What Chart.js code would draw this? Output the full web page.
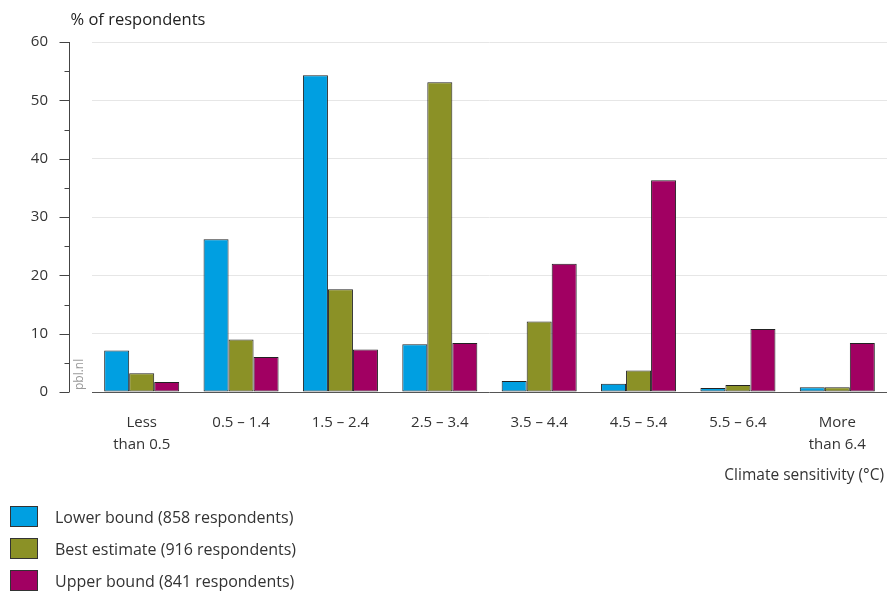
<!DOCTYPE html>
<html>
<head>
<meta charset="utf-8">
<script src="https://cdn.jsdelivr.net/npm/chart.js@4.4.1/dist/chart.umd.min.js"></script>
<style>
  html,body{margin:0;padding:0;background:#fff;}
  #wrap{position:relative;width:887px;height:592px;}
  #legend{position:absolute;left:10px;top:506px;font-family:"Open Sans",sans-serif;font-size:16px;color:#333;}
  .item{display:flex;align-items:center;height:21px;margin-bottom:11px;}
  .box{width:28px;height:21px;border:1px solid #333;margin-right:17px;box-sizing:border-box;}
</style>
</head>
<body>
<div id="wrap">
  <canvas id="c" width="887" height="592"></canvas>
  <div id="legend"></div>
</div>
<script>
const categories = [["Less","than 0.5"], "0.5 – 1.4", "1.5 – 2.4", "2.5 – 3.4", "3.5 – 4.4", "4.5 – 5.4", "5.5 – 6.4", ["More","than 6.4"]];
const lowerBound   = [7.1, 26.2, 54.3, 8.2, 1.9, 1.4, 0.7, 0.8];
const bestEstimate = [3.2, 9.0, 17.6, 53.1, 12.1, 3.7, 1.2, 0.8];
const upperBound   = [1.7, 6.0, 7.3, 8.4, 22.0, 36.3, 10.8, 8.4];
const seriesNames  = ["Lower bound (858 respondents)", "Best estimate (916 respondents)", "Upper bound (841 respondents)"];
const yTicks = [0, 10, 20, 30, 40, 50, 60];
const yAxisTitle = "% of respondents";
const xAxisTitle = "Climate sensitivity (°C)";
const watermark = "pbl.nl";

const colors = ["#009FE1", "#8B9126", "#A10062"];
const FONT = '"Open Sans", sans-serif';

const decor = {
  id: 'decor',
  afterDraw(chart) {
    const ctx = chart.ctx, y = chart.scales.y, area = chart.chartArea;
    const axisX = area.left - 22.5;
    ctx.save();
    ctx.strokeStyle = '#444';
    ctx.lineWidth = 1;
    ctx.beginPath();
    ctx.moveTo(axisX, y.getPixelForValue(yTicks[yTicks.length-1]));
    ctx.lineTo(axisX, y.getPixelForValue(yTicks[0]));
    for (let i = 0; i < yTicks.length; i++) {
      const py = Math.round(y.getPixelForValue(yTicks[i])) + 0.5;
      ctx.moveTo(axisX - 10, py); ctx.lineTo(axisX, py);
      if (i < yTicks.length - 1) {
        const mid = (yTicks[i] + yTicks[i+1]) / 2;
        const pm = Math.round(y.getPixelForValue(mid)) + 0.5;
        ctx.moveTo(axisX - 5, pm); ctx.lineTo(axisX, pm);
      }
    }
    ctx.stroke();
    ctx.fillStyle = '#222';
    ctx.font = '16.5px ' + FONT;
    ctx.textAlign = 'left';
    ctx.textBaseline = 'alphabetic';
    ctx.fillText(yAxisTitle, axisX + 1, 25);
    ctx.font = '15.5px ' + FONT;
    ctx.textAlign = 'right';
    ctx.fillStyle = '#333';
    ctx.fillText(xAxisTitle, area.right - 3, 480);
    ctx.translate(area.left - 9, area.bottom - 2);
    ctx.rotate(-Math.PI / 2);
    ctx.textAlign = 'left';
    ctx.fillStyle = '#999';
    ctx.font = '12px ' + FONT;
    ctx.fillText(watermark, 0, 0);
    ctx.restore();
  }
};

const chart = new Chart(document.getElementById('c'), {
  type: 'bar',
  data: {
    labels: categories,
    datasets: [
      { label: seriesNames[0], data: lowerBound, backgroundColor: colors[0] },
      { label: seriesNames[1], data: bestEstimate, backgroundColor: colors[1] },
      { label: seriesNames[2], data: upperBound, backgroundColor: colors[2] }
    ].map(d => Object.assign(d, { borderColor: '#222', borderWidth: 1, borderSkipped: false, categoryPercentage: 0.755, barPercentage: 1.0 }))
  },
  options: {
    responsive: false,
    animation: false,
    layout: { padding: { left: 0, right: 0, top: 42, bottom: 125 } },
    plugins: { legend: { display: false }, tooltip: { enabled: false } },
    scales: {
      x: {
        grid: { display: false },
        border: { display: false },
        ticks: { color: '#333', font: { family: FONT, size: 15, lineHeight: 1.5 }, padding: 11, maxRotation: 0, autoSkip: false }
      },
      y: {
        min: yTicks[0], max: yTicks[yTicks.length-1],
        afterBuildTicks: s => { s.ticks = yTicks.map(v => ({ value: v })); },
        afterFit: s => { s.width = 92; s.paddingTop = 0; s.paddingBottom = 0; },
        grid: {
          drawTicks: false,
          color: c => c.tick && c.tick.value === 0 ? '#555' : '#e6e6e6',
          lineWidth: 1
        },
        border: { display: false },
        ticks: { color: '#333', font: { family: FONT, size: 15 }, padding: 44 }
      }
    }
  },
  plugins: [decor]
});

const leg = document.getElementById('legend');
chart.data.datasets.forEach(d => {
  const it = document.createElement('div'); it.className = 'item';
  const b = document.createElement('div'); b.className = 'box'; b.style.background = d.backgroundColor;
  const t = document.createElement('span'); t.textContent = d.label;
  it.appendChild(b); it.appendChild(t); leg.appendChild(it);
});
</script>
</body>
</html>
